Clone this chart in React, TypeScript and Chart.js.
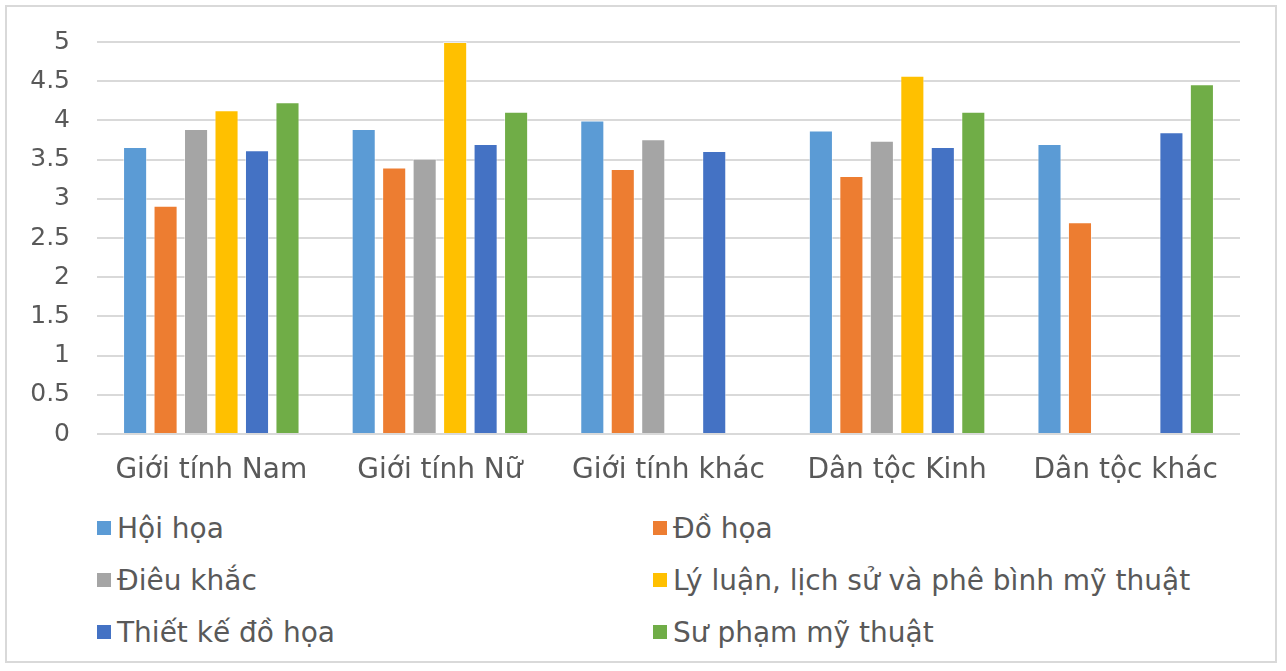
import React, { useEffect, useRef } from "react";
import { Chart, registerables } from "chart.js";

Chart.register(...registerables);

const categories = ["Giới tính Nam", "Giới tính Nữ", "Giới tính khác", "Dân tộc Kinh", "Dân tộc khác"];
const seriesNames = [
  "Hội họa",
  "Đồ họa",
  "Điêu khắc",
  "Lý luận, lịch sử và phê bình mỹ thuật",
  "Thiết kế đồ họa",
  "Sư phạm mỹ thuật",
];
const hoiHoa = [3.66, 3.89, 4.0, 3.87, 3.7];
const doHoa = [2.91, 3.4, 3.38, 3.29, 2.7];
const dieuKhac = [3.89, 3.51, 3.76, 3.74, null];
const lyLuan = [4.13, 5.0, null, 4.57, null];
const thietKe = [3.62, 3.7, 3.61, 3.66, 3.85];
const suPham = [4.23, 4.11, null, 4.11, 4.46];
const seriesValues = [hoiHoa, doHoa, dieuKhac, lyLuan, thietKe, suPham];
const colors = ["#5B9BD5", "#ED7D31", "#A5A5A5", "#FFC000", "#4472C4", "#70AD47"];
const yTicks = [0, 0.5, 1, 1.5, 2, 2.5, 3, 3.5, 4, 4.5, 5];

const FONT = "'DejaVu Sans', sans-serif";
const TEXT = "#595959";

export default function App() {
  const ref = useRef<HTMLCanvasElement | null>(null);

  useEffect(() => {
    if (!ref.current) return;
    const chart = new Chart(ref.current, {
      type: "bar",
      data: {
        labels: categories,
        datasets: seriesNames.map((name, i) => ({
          label: name,
          data: seriesValues[i],
          backgroundColor: colors[i],
          borderColor: "rgba(255,255,255,0.5)",
          borderWidth: 1,
          categoryPercentage: 0.8,
          barPercentage: 0.79,
        })),
      },
      options: {
        animation: false,
        responsive: false,
        maintainAspectRatio: false,
        layout: { padding: { left: 0, right: 46, top: 41, bottom: 0 } },
        plugins: { legend: { display: false }, tooltip: { enabled: false } },
        scales: {
          x: {
            grid: { display: false, drawTicks: false },
            border: { display: false },
            ticks: { color: TEXT, font: { family: FONT, size: 28 }, padding: 20 },
            afterFit: (s: any) => {
              s.height = 500 - 434;
            },
          },
          y: {
            min: 0,
            max: 5,
            afterBuildTicks: (s: any) => {
              s.ticks = yTicks.map((v) => ({ value: v }));
            },
            grid: { color: "#d9d9d9", lineWidth: 2, drawTicks: false },
            border: { display: false },
            ticks: {
              color: TEXT,
              font: { family: FONT, size: 25 },
              padding: 27,
              callback: (v: any) => String(Number(v)),
            },
            afterFit: (s: any) => {
              s.width = 97;
            },
          },
        },
      },
    });
    return () => chart.destroy();
  }, []);

  return (
    <div style={{ position: "fixed", left: 0, top: 0, width: 1286, height: 671, background: "#fff" }}>
      <div
        style={{
          position: "absolute",
          left: 5,
          top: 5,
          width: 1272,
          height: 658,
          border: "2px solid #d9d9d9",
          boxSizing: "border-box",
        }}
      />
      <canvas ref={ref} width={1286} height={500} style={{ position: "absolute", left: 0, top: 0 }} />
      {seriesNames.map((name, i) => {
        const col = i % 2;
        const row = Math.floor(i / 2);
        return (
          <div
            key={name}
            style={{
              position: "absolute",
              left: col === 0 ? 97 : 653,
              top: 528 + row * 52 - 18,
              height: 36,
              display: "flex",
              alignItems: "center",
              fontFamily: FONT,
              fontSize: 28,
              color: TEXT,
              whiteSpace: "nowrap",
            }}
          >
            <span style={{ display: "inline-block", width: 14, height: 14, background: colors[i], marginRight: 6 }} />
            <span>{name}</span>
          </div>
        );
      })}
    </div>
  );
}
